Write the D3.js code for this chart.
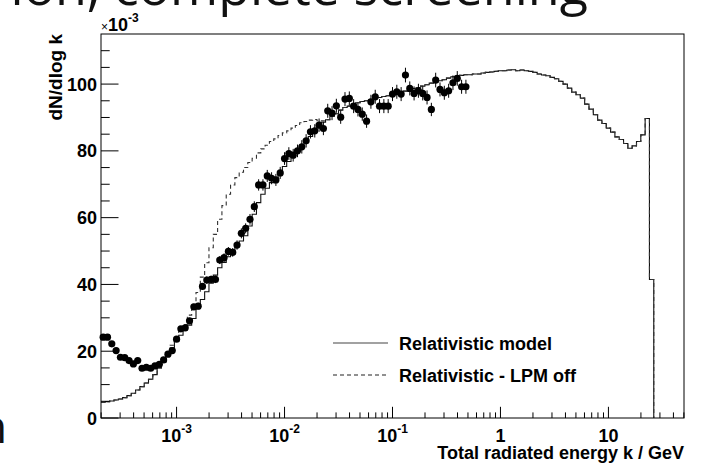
<!DOCTYPE html>
<html>
<head>
<meta charset="utf-8">
<script src="https://cdn.jsdelivr.net/npm/d3@7"></script>
<style>
  body { margin: 0; background: #fff; }
  svg text { font-family: "Liberation Sans", Arial, Helvetica, sans-serif; }
</style>
</head>
<body>
<svg id="chart" width="711" height="465"></svg>
<script>
// Histogram binning: 25 bins per decade starting at 10^-3.7 GeV
var binLogMin = -3.7;
var binLogStep = 0.04;

// Relativistic model (solid), dN/dlog k in units of 1e-3, one value per bin
var modelValues = [
  4.7, 4.9, 5.1, 5.4, 5.7, 6.1, 6.7, 7.4, 8.4, 9.4,
  10.5, 11.6, 13.0, 15.0, 16.8, 18.7, 21.0, 23.0, 24.8, 26.4,
  27.8, 29.8, 32.8, 35.5, 37.8, 40.4, 42.8, 45.0, 46.6, 48.3,
  49.8, 51.4, 53.0, 54.6, 57.5, 61.0, 64.5, 67.0, 68.8, 70.5,
  72.0, 73.6, 75.3, 76.8, 78.3, 79.8, 81.2, 82.8, 84.3, 85.6,
  87.4, 88.6, 89.3, 90.3, 91.1, 92.2, 93.0, 93.4, 94.0, 94.4,
  94.8, 95.0, 95.3, 95.8, 96.0, 96.3, 96.5, 97.0, 97.2, 97.6,
  97.9, 98.3, 98.7, 99.0, 99.4, 99.8, 100.3, 100.6, 101.0, 101.3,
  101.8, 102.2, 102.4, 102.6, 102.8, 102.8, 103.0, 103.0, 103.3, 103.5,
  103.6, 103.8, 104.0, 104.0, 104.2, 104.3, 104.0, 104.2, 104.0, 103.8,
  103.5, 103.0, 102.7, 102.5, 102.0, 101.6, 100.8, 100.0, 98.8, 97.6,
  96.8, 95.8, 94.0, 92.5, 90.8, 89.2, 88.2, 86.8, 85.6, 84.2,
  83.4, 82.2, 80.8, 81.5, 82.8, 84.8, 89.7, 41.5
];

// Relativistic - LPM off (dashed): same as the model outside bins 15..51
var lpmOffStart = 15;
var lpmOffValues = [
  19.0, 21.8, 24.2, 26.2, 28.0, 30.8, 33.6, 37.6, 42.2, 46.5,
  51.0, 55.0, 59.5, 63.6, 67.0, 69.8, 72.0, 73.6, 75.0, 76.5,
  77.8, 79.4, 80.6, 81.7, 82.8, 83.6, 84.6, 85.4, 86.0, 86.8,
  87.6, 88.4, 88.8, 89.2, 89.4, 89.0, 89.0
];

// Measured points, one per bin from the first bin on
var dataValues = [
  24.2, 24.2, 22.2, 20.2, 18.2, 18.1, 17.2, 16.2, 17.2, 14.9,
  15.2, 14.9, 15.6, 16.1, 17.4, 19.1, 20.2, 23.6, 26.7, 27.0,
  29.1, 33.3, 33.5, 39.4, 41.3, 41.5, 41.5, 47.3, 48.0, 49.9,
  49.6, 51.8, 55.3, 56.8, 59.5, 63.3, 69.8, 69.8, 72.5, 71.8,
  71.3, 73.4, 77.7, 79.2, 78.7, 80.0, 81.2, 83.0, 85.7, 86.0,
  87.7, 86.7, 92.0, 91.3, 93.5, 90.1, 95.5, 95.7, 93.4, 92.4,
  91.0, 88.9, 94.7, 96.2, 93.4, 93.4, 93.4, 97.0, 97.7, 97.0,
  102.7, 98.7, 97.2, 98.0, 97.2, 96.0, 92.4, 101.2, 98.4, 97.4,
  98.0, 100.4, 101.7, 99.2, 99.2
];
var dataErrors = [
  0.6, 0.6, 0.6, 0.6, 0.6, 0.6, 0.6, 0.6, 0.6, 0.6,
  0.6, 0.6, 0.6, 0.6, 0.7, 0.7, 0.7, 0.8, 0.8, 0.8,
  0.9, 0.9, 1.0, 1.0, 1.1, 1.1, 1.1, 1.2, 1.3, 1.3,
  1.3, 1.4, 1.5, 1.5, 1.6, 1.6, 1.7, 1.7, 1.8, 1.8,
  1.8, 1.8, 1.9, 1.9, 1.9, 1.9, 2.0, 2.0, 2.0, 2.0,
  2.0, 2.0, 2.1, 2.1, 2.1, 2.0, 2.1, 2.1, 2.1, 2.1,
  2.0, 2.0, 2.1, 2.1, 2.1, 2.1, 2.1, 2.1, 2.1, 2.1,
  2.2, 2.1, 2.1, 2.1, 2.1, 2.1, 2.0, 2.2, 2.1, 2.1,
  2.1, 2.2, 2.2, 2.1, 2.1
];

var xTickValues = [1e-3, 1e-2, 1e-1, 1, 10];
var xTickLabels = [["10", "-3"], ["10", "-2"], ["10", "-1"], ["1", ""], ["10", ""]];
var yTickValues = [0, 20, 40, 60, 80, 100];
var legendLabels = ["Relativistic model", "Relativistic - LPM off"];

var frame = { left: 101, right: 684, top: 34, bottom: 418 };
var svg = d3.select("#chart");

var x = d3.scaleLog().domain([Math.pow(10, -3.7), Math.pow(10, 1.7)]).range([frame.left, frame.right]);
var y = d3.scaleLinear().domain([0, 115]).range([frame.bottom, frame.top]);

function binEdge(i) {
  return Math.pow(10, binLogMin + binLogStep * i);
}
function binCenter(i) {
  return Math.pow(10, binLogMin + binLogStep * (i + 0.5));
}

// Slide text that the plot was cut out of (only its lower part shows)
svg.append("text")
  .attr("x", 588).attr("y", 5)
  .attr("text-anchor", "end")
  .style("font-family", "'Open Sans', 'DejaVu Sans', sans-serif")
  .style("font-size", "52px")
  .style("fill", "#111")
  .text("ion, complete screening");
svg.append("text")
  .attr("x", -21).attr("y", 443)
  .style("font-family", "'Open Sans', 'DejaVu Sans', sans-serif")
  .style("font-size", "46px")
  .style("fill", "#111")
  .text("n");

// Build step outline for a histogram
function stepPoints(values) {
  var pts = [];
  for (var i = 0; i < values.length; i++) {
    pts.push([binEdge(i), values[i]]);
    pts.push([binEdge(i + 1), values[i]]);
  }
  pts.push([binEdge(values.length), 0]);
  return pts;
}

var line = d3.line()
  .x(function (d) { return x(d[0]); })
  .y(function (d) { return y(d[1]); });

var lpmOff = modelValues.slice();
for (var j = 0; j < lpmOffValues.length; j++) {
  lpmOff[lpmOffStart + j] = lpmOffValues[j];
}

var plot = svg.append("g");

plot.append("path")
  .attr("d", line(stepPoints(modelValues)))
  .attr("fill", "none")
  .attr("stroke", "#111")
  .attr("stroke-width", 1.1);

plot.append("path")
  .attr("d", line(stepPoints(lpmOff)))
  .attr("fill", "none")
  .attr("stroke", "#333")
  .attr("stroke-width", 1.1)
  .attr("stroke-dasharray", "4,3");

// Data points with error bars
var points = plot.selectAll("g.pt")
  .data(dataValues)
  .enter().append("g")
  .attr("class", "pt");

points.append("line")
  .attr("x1", function (d, i) { return x(binCenter(i)); })
  .attr("x2", function (d, i) { return x(binCenter(i)); })
  .attr("y1", function (d, i) { return y(d - dataErrors[i]); })
  .attr("y2", function (d, i) { return y(d + dataErrors[i]); })
  .attr("stroke", "#000")
  .attr("stroke-width", 1);

points.append("circle")
  .attr("cx", function (d, i) { return x(binCenter(i)); })
  .attr("cy", function (d) { return y(d); })
  .attr("r", 3.6)
  .attr("fill", "#000");

// Frame
svg.append("rect")
  .attr("x", frame.left).attr("y", frame.top)
  .attr("width", frame.right - frame.left)
  .attr("height", frame.bottom - frame.top)
  .attr("fill", "none")
  .attr("stroke", "#000")
  .attr("stroke-width", 1);

// Y ticks: major every 20, minor every 5, pointing inward
var yMinor = d3.range(0, 115, 5);
svg.selectAll("line.ytick")
  .data(yMinor)
  .enter().append("line")
  .attr("class", "ytick")
  .attr("x1", frame.left)
  .attr("x2", function (d) { return frame.left + (d % 20 === 0 ? 17.5 : 8.7); })
  .attr("y1", function (d) { return y(d); })
  .attr("y2", function (d) { return y(d); })
  .attr("stroke", "#000");

svg.selectAll("text.ylab")
  .data(yTickValues)
  .enter().append("text")
  .attr("class", "ylab")
  .attr("x", frame.left - 4)
  .attr("y", function (d) { return y(d) + 6.5; })
  .attr("text-anchor", "end")
  .style("font-size", "18px")
  .style("font-weight", "bold")
  .text(function (d) { return d; });

// X ticks: decades major, 2..9 minor
var xMinor = [];
for (var e = -4; e <= 1; e++) {
  for (var m = 1; m <= 9; m++) {
    var v = m * Math.pow(10, e);
    if (v > x.domain()[0] && v < x.domain()[1]) {
      xMinor.push({ v: v, major: m === 1 });
    }
  }
}
svg.selectAll("line.xtick")
  .data(xMinor)
  .enter().append("line")
  .attr("class", "xtick")
  .attr("x1", function (d) { return x(d.v); })
  .attr("x2", function (d) { return x(d.v); })
  .attr("y1", frame.bottom)
  .attr("y2", function (d) { return frame.bottom - (d.major ? 11.2 : 5.6); })
  .attr("stroke", "#000");

var xlab = svg.selectAll("text.xlab")
  .data(xTickValues)
  .enter().append("text")
  .attr("class", "xlab")
  .attr("x", function (d) { return x(d); })
  .attr("y", 442)
  .attr("text-anchor", "middle")
  .style("font-size", "18px")
  .style("font-weight", "bold");
xlab.append("tspan").text(function (d, i) { return xTickLabels[i][0]; });
xlab.append("tspan")
  .attr("dy", -9)
  .style("font-size", "12px")
  .text(function (d, i) { return xTickLabels[i][1]; });

// Axis titles
svg.append("text")
  .attr("x", frame.right).attr("y", 459)
  .attr("text-anchor", "end")
  .style("font-size", "18px")
  .style("font-weight", "bold")
  .text("Total radiated energy k / GeV");

svg.append("text")
  .attr("transform", "translate(62," + frame.top + ") rotate(-90)")
  .attr("text-anchor", "end")
  .style("font-size", "19px")
  .style("font-weight", "bold")
  .text("dN/dlog k");

// Exponent factor on the y axis
var expo = svg.append("text")
  .attr("x", frame.left).attr("y", 31);
expo.append("tspan").style("font-size", "12px").text("\u00d7");
expo.append("tspan").style("font-size", "18px").style("font-weight", "bold").text("10");
expo.append("tspan").attr("dy", -9).style("font-size", "12px").style("font-weight", "bold").text("-3");

// Legend
var legend = svg.append("g");
legendLabels.forEach(function (label, i) {
  var ly = 343 + i * 32;
  legend.append("line")
    .attr("x1", 333).attr("x2", 388)
    .attr("y1", ly).attr("y2", ly)
    .attr("stroke", i === 0 ? "#444" : "#222")
    .attr("stroke-width", 1.2)
    .attr("stroke-dasharray", i === 0 ? null : "4,3");
  legend.append("text")
    .attr("x", 399).attr("y", ly + 6.5)
    .style("font-size", "18px")
    .style("font-weight", "bold")
    .text(label);
});
</script>
</body>
</html>
